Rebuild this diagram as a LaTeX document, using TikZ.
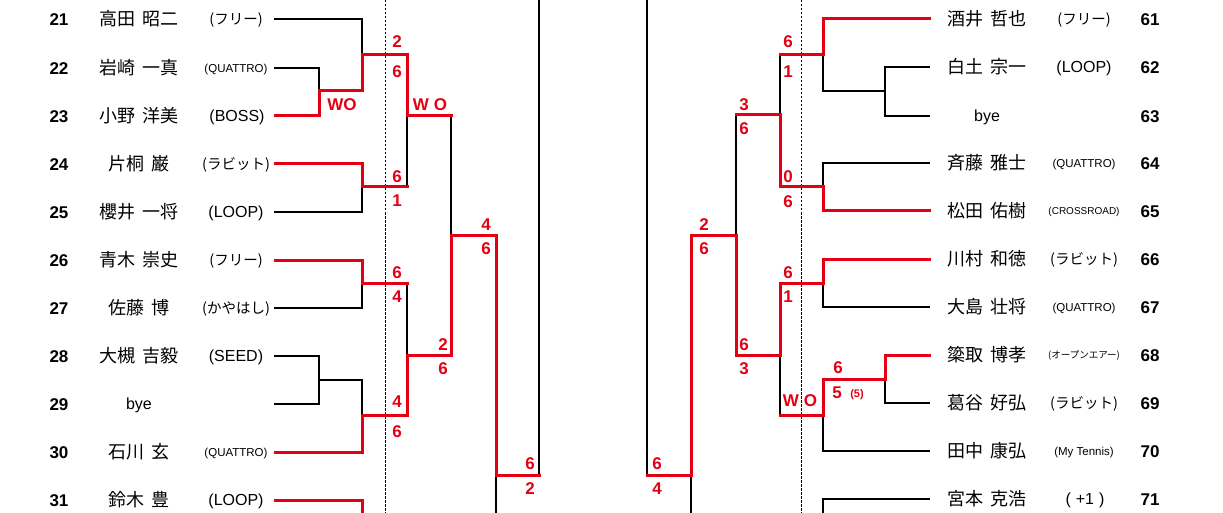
\documentclass[tikz,border=0pt]{standalone}
\usepackage{fontspec}
\newfontfamily\jpfont{Noto Sans CJK JP}
\newfontfamily\latfont{Liberation Sans}
\definecolor{bred}{RGB}{228,0,18}
\newcommand\jsp{\hspace{0.4em}}
\tikzset{
  blk/.style={draw=black, line width=1.8pt},
  redl/.style={draw=bred, line width=3pt},
  dsh/.style={draw=black, line width=0.6pt, dash pattern=on 2.5pt off 1.5pt, line cap=butt},
  num/.style={font=\latfont\bfseries\fontsize{17}{17}\selectfont, anchor=base, yshift=-6.1pt, inner sep=0},
  nm/.style={font=\jpfont\fontsize{18}{18}\selectfont, anchor=base, yshift=-6.6pt, inner sep=0},
  tmj/.style={font=\jpfont\fontsize{14.5}{14.5}\selectfont, anchor=base, yshift=-5.3pt, inner sep=0},
  tmk/.style={font=\jpfont\fontsize{9.5}{9.5}\selectfont, anchor=base, yshift=-3.5pt, inner sep=0},
  tml/.style={font=\latfont\fontsize{16}{16}\selectfont, anchor=base, yshift=-5.8pt, inner sep=0},
  tms/.style={font=\latfont\fontsize{11.5}{11.5}\selectfont, anchor=base, yshift=-4.2pt, inner sep=0},
  tmx/.style={font=\latfont\fontsize{10}{10}\selectfont, anchor=base, yshift=-3.6pt, inner sep=0},
  sc/.style={font=\latfont\bfseries\fontsize{17}{17}\selectfont, text=bred, anchor=base, yshift=-6.1pt, inner sep=0},
  scs/.style={font=\latfont\bfseries\fontsize{11}{11}\selectfont, text=bred, anchor=base, yshift=-4pt, inner sep=0},
}
\begin{document}
\begin{tikzpicture}[x=1pt,y=-1pt, line cap=rect, line join=miter]
\useasboundingbox (0,0) rectangle (1223,513);
% ---------- left entries ----------
\node[num] (n21) at (59,19)  {21}; \node[nm] (m21) at (139,19)  {高田\jsp 昭二}; \node[tmj] (t21) at (236,19)  {(フリー)};
\node[num] (n22) at (59,68)  {22}; \node[nm] (m22) at (139,68)  {岩崎\jsp 一真}; \node[tms] (t22) at (236,68)  {(QUATTRO)};
\node[num] (n23) at (59,116) {23}; \node[nm] (m23) at (139,116) {小野\jsp 洋美}; \node[tml] (t23) at (237,116) {(BOSS)};
\node[num] (n24) at (59,164) {24}; \node[nm] (m24) at (139,164) {片桐\jsp 巌};   \node[tmj] (t24) at (236,164) {(ラビット)};
\node[num] (n25) at (59,212) {25}; \node[nm] (m25) at (139,212) {櫻井\jsp 一将}; \node[tml] (t25) at (236,212) {(LOOP)};
\node[num] (n26) at (59,260) {26}; \node[nm] (m26) at (139,260) {青木\jsp 崇史}; \node[tmj] (t26) at (236,260) {(フリー)};
\node[num] (n27) at (59,308) {27}; \node[nm] (m27) at (139,308) {佐藤\jsp 博};   \node[tmj] (t27) at (236,308) {(かやはし)};
\node[num] (n28) at (59,356) {28}; \node[nm] (m28) at (139,356) {大槻\jsp 吉毅}; \node[tml] (t28) at (236,356) {(SEED)};
\node[num] (n29) at (59,404) {29}; \node[tml] (m29) at (139,404) {bye};
\node[num] (n30) at (59,452) {30}; \node[nm] (m30) at (139,452) {石川\jsp 玄};   \node[tms] (t30) at (236,452) {(QUATTRO)};
\node[num] (n31) at (59,500) {31}; \node[nm] (m31) at (139,500) {鈴木\jsp 豊};   \node[tml] (t31) at (236,500) {(LOOP)};
% ---------- right entries ----------
\node[nm] (m61) at (987,19)  {酒井\jsp 哲也}; \node[tmj] (t61) at (1084,19)  {(フリー)};        \node[num] (n61) at (1150,19)  {61};
\node[nm] (m62) at (987,67)  {白土\jsp 宗一}; \node[tml] (t62) at (1084,67)  {(LOOP)};          \node[num] (n62) at (1150,67)  {62};
\node[tml] (m63) at (987,116) {bye};                                                          \node[num] (n63) at (1150,116) {63};
\node[nm] (m64) at (987,163) {斉藤\jsp 雅士}; \node[tms] (t64) at (1084,163) {(QUATTRO)};       \node[num] (n64) at (1150,163) {64};
\node[nm] (m65) at (987,211) {松田\jsp 佑樹}; \node[tmx] (t65) at (1084,211) {(CROSSROAD)};     \node[num] (n65) at (1150,211) {65};
\node[nm] (m66) at (987,259) {川村\jsp 和徳}; \node[tmj] (t66) at (1084,259) {(ラビット)};      \node[num] (n66) at (1150,259) {66};
\node[nm] (m67) at (987,307) {大島\jsp 壮将}; \node[tms] (t67) at (1084,307) {(QUATTRO)};       \node[num] (n67) at (1150,307) {67};
\node[nm] (m68) at (987,355) {簗取\jsp 博孝}; \node[tmk] (t68) at (1084,355) {(オープンエアー)}; \node[num] (n68) at (1150,355) {68};
\node[nm] (m69) at (987,403) {葛谷\jsp 好弘}; \node[tmj] (t69) at (1084,403) {(ラビット)};      \node[num] (n69) at (1150,403) {69};
\node[nm] (m70) at (987,451) {田中\jsp 康弘}; \node[tms] (t70) at (1084,451) {(My Tennis)};     \node[num] (n70) at (1150,451) {70};
\node[nm] (m71) at (987,499) {宮本\jsp 克浩}; \node[tml] (t71) at (1085,499) {(\hspace{5pt}+1\hspace{5pt})}; \node[num] (n71) at (1150,499) {71};
% ---------- line ends ----------
\coordinate (L21) at (275,19);  \coordinate (L22) at (275,68);  \coordinate (L23) at (275,116);
\coordinate (L24) at (275,164); \coordinate (L25) at (275,212); \coordinate (L26) at (275,260);
\coordinate (L27) at (275,308); \coordinate (L28) at (275,356); \coordinate (L29) at (275,404);
\coordinate (L30) at (275,452); \coordinate (L31) at (275,500);
\coordinate (R61) at (929,19);  \coordinate (R62) at (929,67);  \coordinate (R63) at (929,116);
\coordinate (R64) at (929,163); \coordinate (R65) at (929,211); \coordinate (R66) at (929,259);
\coordinate (R67) at (929,307); \coordinate (R68) at (929,355); \coordinate (R69) at (929,403);
\coordinate (R70) at (929,451); \coordinate (R71) at (929,499);
\coordinate (DL1) at (385,0); \coordinate (DL2) at (385,513);
\coordinate (DR1) at (801,0); \coordinate (DR2) at (801,513);
% dashed guides
\draw[dsh] (DL1) -- (DL2);
\draw[dsh] (DR1) -- (DR2);
% ---------- left bracket, black ----------
\draw[blk] (L21) -- (362,19) -- (362,55);
\draw[blk] (L22) -- (319,68) -- (319,91);
\draw[blk] (407,116) -- (407,187);
\draw[blk] (L25) -- (362,212) -- (362,187);
\draw[blk] (451,116) -- (451,235);
\draw[blk] (539,475) -- (539,0);
\draw[blk] (496,475) -- (496,513);
\draw[blk] (L27) -- (362,308) -- (362,283);
\draw[blk] (407,283) -- (407,355);
\draw[blk] (L28) -- (319,356) -- (319,380);
\draw[blk] (L29) -- (319,404) -- (319,380) -- (362,380) -- (362,415);
% ---------- right bracket, black ----------
\draw[blk] (647,0) -- (647,475);
\draw[blk] (691,475) -- (691,513);
\draw[blk] (736,235) -- (736,115);
\draw[blk] (780,115) -- (780,55);
\draw[blk] (823,55) -- (823,91) -- (885,91);
\draw[blk] (R62) -- (885,67) -- (885,116) -- (R63);
\draw[blk] (823,187) -- (823,163) -- (R64);
\draw[blk] (823,283) -- (823,307) -- (R67);
\draw[blk] (780,355) -- (780,415);
\draw[blk] (885,379) -- (885,403) -- (R69);
\draw[blk] (823,415) -- (823,451) -- (R70);
\draw[blk] (823,513) -- (823,499) -- (R71);
% ---------- left bracket, red ----------
\draw[redl] (L23) -- (319,116) -- (319,91) -- (362,91) -- (362,55) -- (407,55) -- (407,116) -- (451,116);
\draw[redl] (L24) -- (362,164) -- (362,187) -- (407,187);
\draw[redl] (407,355) -- (451,355) -- (451,235) -- (496,235) -- (496,475) -- (539,475);
\draw[redl] (L26) -- (362,260) -- (362,283) -- (407,283);
\draw[redl] (407,355) -- (407,415) -- (362,415) -- (362,452) -- (L30);
\draw[redl] (L31) -- (362,500) -- (362,513);
% ---------- right bracket, red ----------
\draw[redl] (647,475) -- (691,475) -- (691,235) -- (736,235) -- (736,355) -- (780,355) -- (780,283) -- (823,283) -- (823,259) -- (R66);
\draw[redl] (736,115) -- (780,115) -- (780,187) -- (823,187) -- (823,211) -- (R65);
\draw[redl] (780,55) -- (823,55) -- (823,19) -- (R61);
\draw[redl] (780,415) -- (823,415) -- (823,379) -- (885,379) -- (885,355) -- (R68);
% ---------- scores, left ----------
\node[sc] (a1) at (397,41) {2};   \node[sc] (a2) at (397,71) {6};
\node[sc] (a3) at (342,104) {WO};
\node[sc] (a4) at (430,104) {W\hspace{5pt}O};
\node[sc] (a5) at (397,176) {6};  \node[sc] (a6) at (397,200) {1};
\node[sc] (a7) at (486,224) {4};  \node[sc] (a8) at (486,248) {6};
\node[sc] (a9) at (397,272) {6};  \node[sc] (a10) at (397,296) {4};
\node[sc] (a11) at (443,344) {2}; \node[sc] (a12) at (443,368) {6};
\node[sc] (a13) at (397,401) {4}; \node[sc] (a14) at (397,431) {6};
\node[sc] (a15) at (530,463) {6}; \node[sc] (a16) at (530,488) {2};
% ---------- scores, right ----------
\node[sc] (b1) at (657,463) {6};  \node[sc] (b2) at (657,488) {4};
\node[sc] (b3) at (704,224) {2};  \node[sc] (b4) at (704,248) {6};
\node[sc] (b5) at (744,104) {3};  \node[sc] (b6) at (744,128) {6};
\node[sc] (b7) at (788,41) {6};   \node[sc] (b8) at (788,71) {1};
\node[sc] (b9) at (788,176) {0};  \node[sc] (b10) at (788,201) {6};
\node[sc] (b11) at (788,272) {6}; \node[sc] (b12) at (788,296) {1};
\node[sc] (b13) at (744,344) {6}; \node[sc] (b14) at (744,368) {3};
\node[sc] (b15) at (800,400) {W\hspace{5pt}O};
\node[sc] (b16) at (838,367) {6};
\node[sc] (b17) at (837,392) {5};
\node[scs] (b18) at (857,393) {(5)};
\end{tikzpicture}
\end{document}
